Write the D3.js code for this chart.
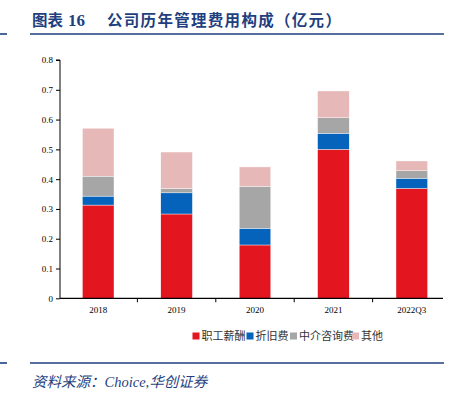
<!DOCTYPE html>
<html>
<head>
<meta charset="utf-8">
<script src="https://cdn.jsdelivr.net/npm/d3@7"></script>
<style>
  body { margin: 0; background: #fff; }
</style>
</head>
<body>
<script>
// data (亿元)
const years = ["2018", "2019", "2020", "2021", "2022Q3"];
const salary = [0.313, 0.283, 0.179, 0.500, 0.369];
const depreciation = [0.030, 0.071, 0.056, 0.054, 0.034];
const consulting = [0.067, 0.015, 0.141, 0.052, 0.025];
const other = [0.161, 0.122, 0.065, 0.090, 0.033];
const seriesNames = ["职工薪酬", "折旧费", "中介咨询费", "其他"];
const yTicks = [0, 0.1, 0.2, 0.3, 0.4, 0.5, 0.6, 0.7, 0.8];

const colors = ["#E3151E", "#0563BB", "#A6A6A6", "#E6B8B8"];
const navy = "#1F3F7F";

const width = 458, height = 395;
const svg = d3.select("body").append("svg")
    .attr("width", width)
    .attr("height", height);

// header
const title = svg.append("g")
    .attr("fill", navy)
    .style("font-weight", 700)
    .style("font-size", "15.5px");
title.append("text").attr("x", 32).attr("y", 26)
    .style("font-family", "'Noto Sans CJK SC', sans-serif")
    .text("图表");
title.append("text").attr("x", 68).attr("y", 26)
    .style("font-family", "'Liberation Serif', serif")
    .style("font-size", "17px")
    .text("16");
title.append("text").attr("x", 107).attr("y", 26)
    .style("font-family", "'Noto Sans CJK SC', sans-serif")
    .style("letter-spacing", "1.3px")
    .text("公司历年管理费用构成（亿元）");

const rule = (y) => {
    svg.append("line").attr("x1", 0).attr("x2", 7).attr("y1", y).attr("y2", y)
        .attr("stroke", navy).attr("stroke-width", 1.6);
    svg.append("line").attr("x1", 30).attr("x2", 444).attr("y1", y).attr("y2", y)
        .attr("stroke", navy).attr("stroke-width", 1.6);
};
rule(34);
rule(363);

svg.append("text")
    .attr("x", 32).attr("y", 387)
    .attr("fill", navy)
    .style("font-family", "'Liberation Serif', 'Noto Sans CJK SC', serif")
    .style("font-style", "italic")
    .style("font-size", "14.5px")
    .text("资料来源：Choice,华创证券");

// scales
const xb = d3.scaleBand().domain(years).range([59, 451]);
const y = d3.scaleLinear().domain([0, 0.8]).range([298.3, 60]);

const table = years.map((yr, i) => ({
    year: yr,
    [seriesNames[0]]: salary[i],
    [seriesNames[1]]: depreciation[i],
    [seriesNames[2]]: consulting[i],
    [seriesNames[3]]: other[i]
}));
const stacked = d3.stack().keys(seriesNames)(table);

svg.append("g").selectAll("g")
    .data(stacked)
    .join("g")
    .attr("fill", (d, i) => colors[i])
    .selectAll("rect")
    .data(d => d)
    .join("rect")
    .attr("x", d => xb(d.data.year) + xb.bandwidth() / 2 - 15.8)
    .attr("width", 31.6)
    .attr("y", d => y(d[1]))
    .attr("height", d => y(d[0]) - y(d[1]))
    .attr("stroke", "#fff")
    .attr("stroke-width", 0.4);

// y axis
const yAxis = svg.append("g")
    .attr("transform", "translate(60,0)")
    .call(d3.axisLeft(y).tickValues(yTicks).tickSize(4).tickPadding(3)
        .tickFormat(d => d === 0 ? "0" : d3.format(".1f")(d)));
yAxis.select(".domain").attr("d", `M-4,${y(0.8)}H0V${y(0)}`).attr("stroke", "#000");
yAxis.selectAll("text")
    .style("font-family", "'Liberation Serif', serif")
    .style("font-size", "9px")
    .attr("fill", "#000");

// x axis
const xAxis = svg.append("g")
    .attr("transform", `translate(0,${y(0)})`)
    .call(d3.axisBottom(xb).tickSize(0).tickPadding(8));
xAxis.select(".domain").attr("d", "M60,0H443").attr("stroke", "#000").attr("stroke-width", 1.2);
xAxis.selectAll("text")
    .style("font-family", "'Liberation Serif', serif")
    .style("font-size", "9px")
    .attr("fill", "#000");
xAxis.selectAll(".sep")
    .data(years.slice(1))
    .join("line")
    .attr("class", "sep")
    .attr("x1", d => xb(d)).attr("x2", d => xb(d))
    .attr("y1", 0).attr("y2", 4)
    .attr("stroke", "#000");

// legend
const legendX = [192.5, 246.5, 290, 352];
const legend = svg.append("g").selectAll("g")
    .data(seriesNames)
    .join("g")
    .attr("transform", (d, i) => `translate(${legendX[i]},336)`);
legend.append("rect")
    .attr("x", 0).attr("y", -3.5).attr("width", 7).attr("height", 7)
    .attr("fill", (d, i) => colors[i]);
legend.append("text")
    .attr("x", 9).attr("y", 4)
    .style("font-family", "'Noto Sans CJK SC', sans-serif")
    .style("font-size", "11px")
    .attr("fill", "#333")
    .text(d => d);
</script>
</body>
</html>
